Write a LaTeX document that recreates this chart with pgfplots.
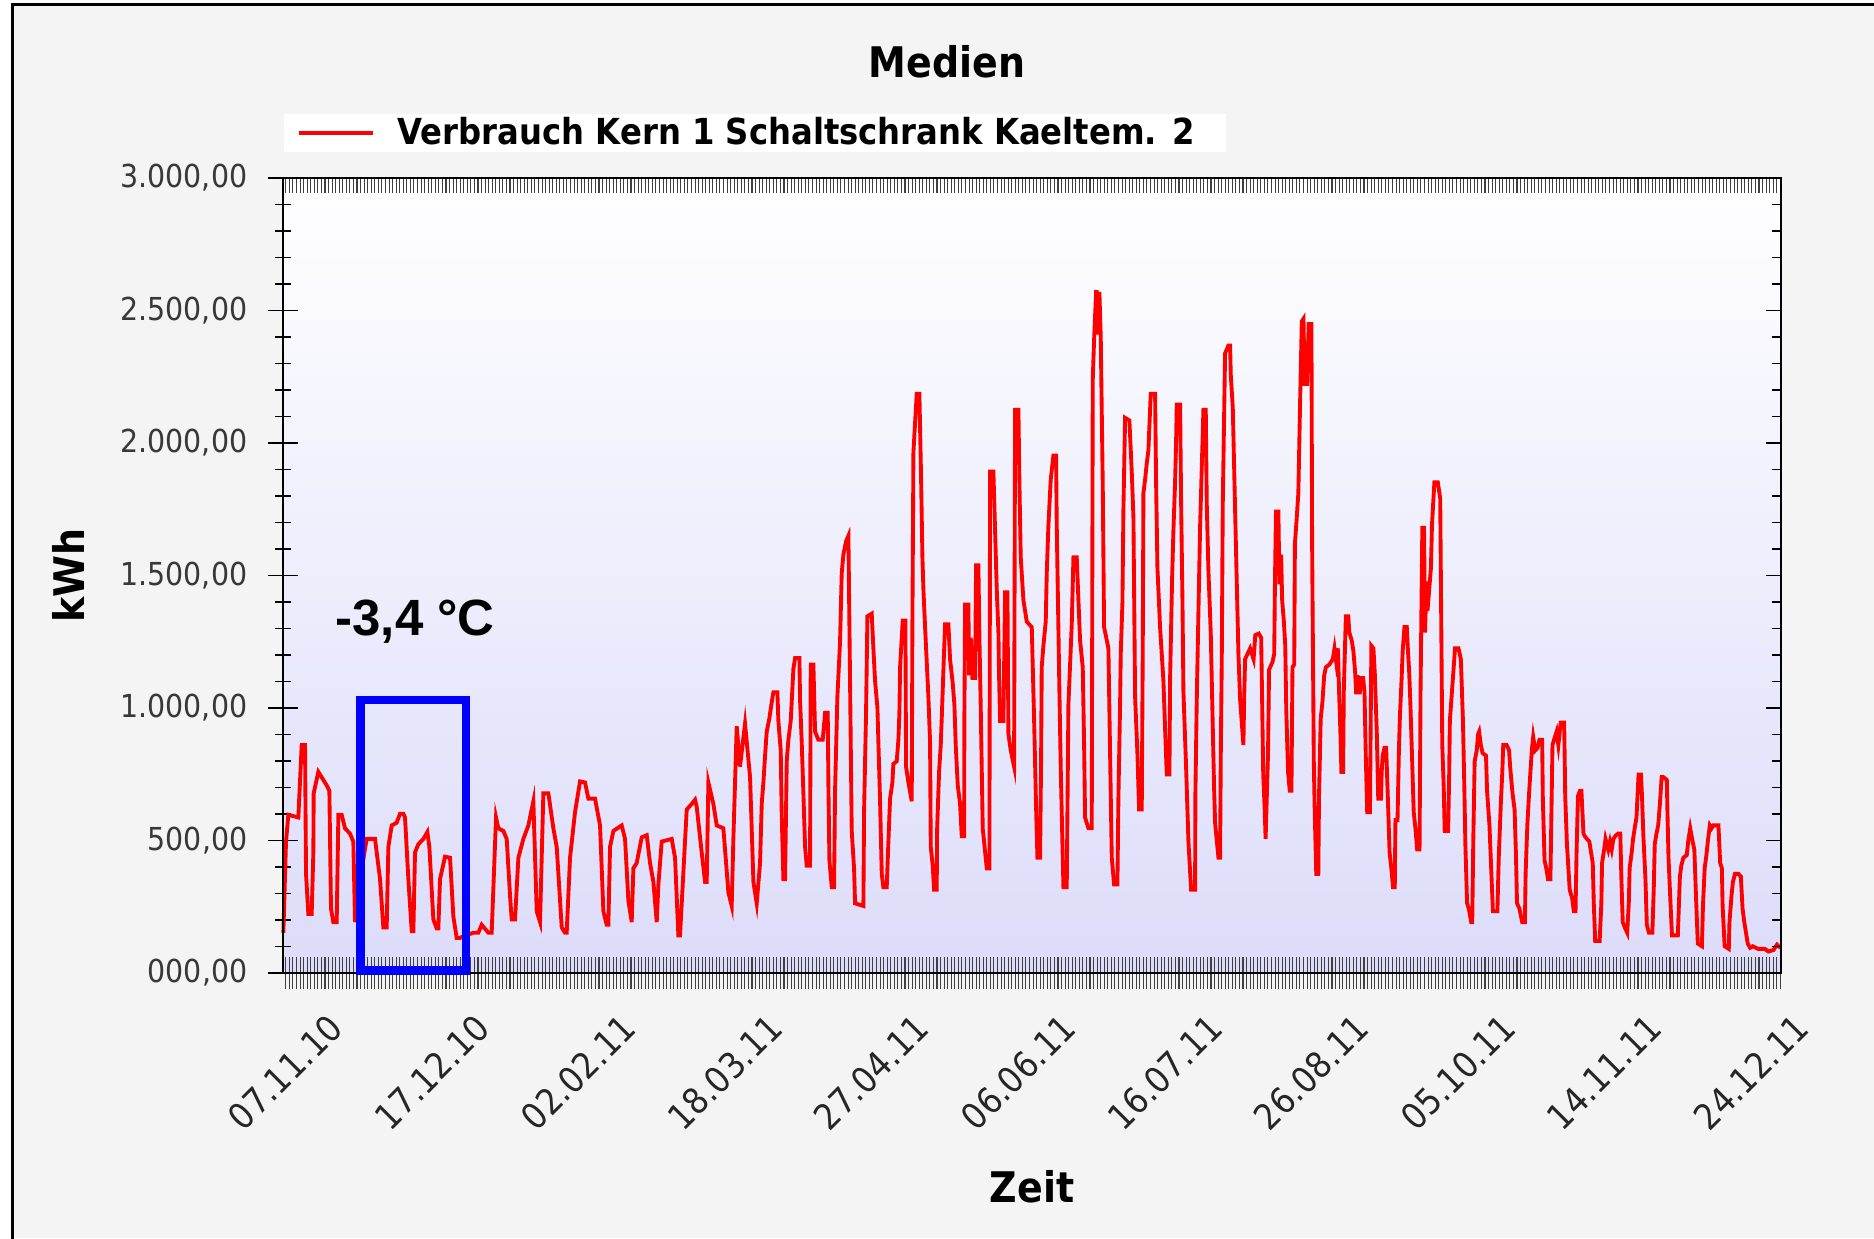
\documentclass[border=0pt]{standalone}
\usepackage{pgfplots}
\pgfplotsset{compat=1.18}
\usepackage{fontspec}
\setmainfont{DejaVu Sans}[FakeStretch=0.9]
\newfontfamily\arialfont{Liberation Sans}
\definecolor{chartbg}{RGB}{244,244,244}
\definecolor{plotlow}{RGB}{220,220,250}
\newcommand\ytickfont{\fontsize{9}{10}\selectfont}
\newcommand\xtickfont{\fontsize{10.2}{12}\selectfont}
\newcommand\labelfont{\fontsize{12}{14}\selectfont\bfseries}
\newcommand\legfont{\fontsize{10.2}{12}\selectfont\bfseries}

\begin{document}
\begin{tikzpicture}
\useasboundingbox (0,0) rectangle (187.4mm,123.8mm);
\fill[white] (0,0) rectangle (187.4mm,123.8mm);
\fill[chartbg] (1.2mm,0) rectangle (187.4mm,123.3mm);
\draw[black,line width=0.3mm] (1.2mm,-1mm) -- (1.2mm,123.3mm) -- (188mm,123.3mm);
\node[font=\labelfont] at (94.7mm,117.6mm) {Medien};

% main axis: data, y ticks left, labels, legend
\begin{axis}[
  at={(28.3mm,26.5mm)}, anchor=south west,
  width=149.8mm, height=79.5mm, scale only axis,
  xmin=-8.8, xmax=412.2, ymin=0, ymax=3000,
  clip=false,
  axis background/.style={top color=white, bottom color=plotlow},
  axis line style={black, line width=0.5pt},
  xtick={0,41.2,82.4,123.6,164.8,206,247.2,288.4,329.6,370.8,412},
  xticklabels={07.11.10,17.12.10,02.02.11,18.03.11,27.04.11,06.06.11,16.07.11,26.08.11,05.10.11,14.11.11,24.12.11},
  xtick pos=left, xtick style={draw=none},
  xticklabel style={xshift=1.2mm, yshift=-2.3mm, rotate=45, anchor=north east, inner sep=0pt, font=\xtickfont, text=black!85},
  ytick={0,500,...,3000},
  yticklabels={{000,00},{500,00},{1.000,00},{1.500,00},{2.000,00},{2.500,00},{3.000,00}},
  ytick pos=left, minor y tick num=4, tick align=center,
  major tick length=3mm, minor tick length=1.6mm,
  ytick style={black, line width=0.4pt},
  yticklabel style={anchor=east, inner sep=0pt, xshift=-2.0mm, font=\ytickfont, text=black!78},
  xlabel={Zeit}, ylabel={kWh},
  every axis x label/.style={at={(axis description cs:0.5,0)}, anchor=center, yshift=-21.4mm, font=\labelfont},
  every axis y label/.style={at={(axis description cs:0,0.5)}, xshift=-21.5mm, rotate=90, anchor=center, font=\labelfont},
  legend style={at={(0,1)}, anchor=south west, yshift=2.5mm, draw=none, fill=white,
    inner xsep=0pt, inner ysep=0pt, font=\legfont, cells={anchor=west},
    nodes={inner xsep=0.7mm, inner ysep=0.3mm}},
  legend image code/.code={\path[draw=none] (0mm,0mm) -- (10.7mm,0mm); \draw[#1] (1.5mm,0mm) -- (8.9mm,0mm);},
]
\addplot[red, line width=1.1pt] coordinates {
(-8.70,152) (-7.95,496) (-7.30,597) (-4.49,587) (-3.55,860) (-2.61,860) (-2.33,374) (-1.68,223) (-0.74,223) (-0.27,455) (-0.18,678) (1.13,759) (2.07,739) (3.48,708) (4.23,688) (4.69,243) (5.35,192) (6.29,192) (6.76,597) (7.69,597) (8.63,546) (10.03,526) (10.97,496) (11.44,192) (12.85,354) (14.72,506) (17.06,506) (18.47,354) (19.40,172) (20.34,172) (20.81,476) (21.75,557) (23.15,567) (24.09,601) (25.02,601) (25.49,587) (26.43,354) (27.37,158) (27.84,158) (28.30,455) (29.24,486) (30.65,506) (31.77,532) (32.33,476) (33.46,202) (34.39,168) (34.86,168) (35.33,354) (36.73,439) (38.14,435) (39.08,213) (40.01,132) (40.95,132) (41.42,136) (44.70,152) (46.10,152) (47.04,182) (48.91,152) (49.85,152) (51.07,587) (51.72,546) (53.13,536) (54.07,506) (55.00,293) (55.47,202) (56.41,202) (57.35,435) (58.75,506) (60.16,557) (61.56,648) (62.50,233) (63.44,192) (64.37,678) (65.78,678) (67.18,546) (68.12,476) (69.53,172) (70.46,152) (70.93,152) (71.87,435) (73.27,607) (74.68,723) (76.08,719) (77.02,658) (78.89,658) (80.30,557) (81.24,233) (82.17,182) (82.64,182) (83.11,476) (84.05,536) (86.39,557) (87.33,506) (88.26,273) (89.20,192) (89.67,395) (90.60,415) (92.01,512) (93.42,520) (94.35,415) (95.29,344) (96.23,192) (96.70,334) (97.63,496) (100.44,506) (101.38,435) (102.31,142) (102.78,142) (104.66,617) (106.06,638) (107.00,654) (107.47,627) (108.87,455) (109.81,344) (110.28,344) (110.75,719) (112.15,638) (113.09,557) (114.96,546) (116.37,304) (117.30,253) (117.77,506) (118.71,931) (119.64,779) (121.05,941) (122.46,739) (123.40,344) (124.33,263)
(125.27,415) (125.74,638) (126.21,719) (126.68,820) (127.14,911) (127.89,961) (128.55,1022) (129.02,1059) (130.14,1059) (130.42,951) (131.08,840) (131.36,597) (131.83,354) (132.30,354) (132.77,799) (133.23,880) (133.89,951) (134.64,1148) (135.11,1188) (136.33,1188) (136.51,1032) (136.98,870) (137.45,678) (137.92,476) (138.39,405) (139.32,405) (139.51,1164) (140.26,1164) (140.73,911) (141.66,880) (142.88,880) (143.54,982) (144.29,982) (144.48,708) (144.76,425) (145.41,324) (146.07,324) (146.35,688) (147.00,1042) (147.75,1249) (148.22,1508) (148.69,1579) (149.44,1629) (150.10,1650) (150.57,1093) (151.03,536) (151.69,395) (151.97,263) (154.31,253) (154.50,607) (155.06,982) (155.44,1346) (156.65,1356) (157.12,1225) (157.59,1103) (158.25,1002) (159.00,648) (159.47,374) (159.93,324) (160.87,324) (161.34,496) (161.81,658) (162.46,719) (162.74,789) (163.68,799) (164.15,880) (164.43,982) (164.62,1154) (165.37,1330) (166.12,1330) (166.30,779) (166.96,719) (167.90,648) (168.08,1305) (168.37,1963) (168.83,2075) (169.30,2186) (170.05,2186) (170.52,1872) (170.90,1569) (171.18,1447) (171.65,1305) (172.11,1174) (172.58,1042) (173.05,870) (173.24,476) (173.80,405) (174.17,314) (174.92,314) (175.02,536) (175.58,759) (176.05,860) (176.33,961) (176.80,1144) (177.27,1316) (178.20,1316) (178.67,1184) (179.42,1093) (179.89,1012) (180.26,860) (180.83,708) (181.48,638) (181.95,516) (182.61,516) (182.70,972) (182.89,1390) (183.82,1390) (184.01,1123) (184.48,1265) (184.95,1113) (185.70,1113) (185.98,1538) (186.63,1538) (186.92,1265) (187.29,1002) (187.85,546) (188.98,395) (189.73,395) (189.82,1144) (189.91,1892) (190.85,1892) (191.32,1670) (191.79,1447) (192.26,1285) (192.44,1123) (192.72,951) (193.66,951) (194.13,1437) (194.79,1437) (195.07,901) (195.72,840) (196.66,779) (196.94,2125) (197.88,2125) (198.16,1852) (198.53,1569) (199.28,1407) (200.22,1326) (201.63,1305) (202.28,961) (202.84,627) (203.22,435) (203.97,435) (204.25,799) (204.43,1154) (204.90,1235) (205.56,1326) (205.84,1508) (206.31,1690) (206.96,1862) (207.71,1953) (208.46,1953) (208.65,1690) (209.40,1063) (209.78,769) (210.15,546) (210.53,324) (211.46,324) (211.93,1012) (212.40,1164) (212.87,1316) (213.34,1569) (214.27,1569) (214.74,1407) (215.21,1255) (215.96,1154) (216.33,870) (216.61,587) (217.55,546) (218.49,546) (218.77,2237) (219.14,2388) (219.71,2570) (219.89,2570) (220.17,2409) (220.64,2570) (221.02,2398) (221.58,1842) (221.95,1305) (222.42,1275) (223.17,1225) (223.64,830) (224.11,435) (224.77,334) (225.70,334) (225.99,668) (226.45,1012) (226.64,1204) (227.11,1397) (227.39,1751) (227.86,2095) (229.07,2085) (229.73,1892) (230.20,1720) (230.67,1042) (231.32,830) (231.79,617) (232.54,617) (232.82,1214) (233.01,1811) (233.48,1862) (233.95,1923) (234.41,1973) (235.07,2186) (236.29,2186) (236.57,1852) (236.95,1528) (237.69,1305) (238.63,1103) (239.10,921) (239.57,749) (240.32,749) (240.51,1113) (241.07,1488) (241.44,1670) (241.91,1852) (242.19,2004) (242.38,2145) (243.32,2145) (243.60,1781) (243.98,1407) (244.25,1063) (245.00,779) (245.66,496) (246.41,314) (247.53,314) (247.62,678) (247.99,1022) (248.46,1356) (248.93,1680) (249.40,1903) (249.87,2125) (250.53,2125) (250.81,1771) (251.28,1518) (251.93,1285) (252.40,992) (252.87,698) (253.15,567) (254.09,435) (254.56,435) (254.75,820) (255.03,1184) (255.31,1771) (255.96,2338) (256.90,2368) (257.37,2368) (257.56,2257) (258.12,2135) (258.77,1751) (259.43,1366) (259.71,1204) (260.18,1032) (261.11,860) (261.30,1022) (261.58,1184) (262.99,1225)
(263.97,1184) (264.45,1275) (265.42,1281) (266.10,1265) (266.39,1012) (266.68,749) (267.06,627) (267.35,506) (268.03,830) (268.32,1144) (269.29,1174) (269.77,1204) (269.97,1467) (270.26,1741) (270.94,1741) (271.23,1467) (271.71,1579) (272.00,1407) (272.48,1326) (272.87,1235) (273.16,992) (273.65,759) (274.13,688) (274.61,688) (274.90,1154) (275.39,1164) (275.58,1619) (276.06,1710) (276.55,1811) (277.03,2145) (277.52,2459) (278.00,2469) (278.29,2216) (278.68,2338) (278.97,2216) (279.45,2449) (280.23,2449) (280.42,1619) (280.90,789) (281.19,587) (281.58,374) (282.16,374) (282.36,668) (282.84,961) (283.32,1022) (283.81,1123) (284.29,1154) (285.26,1164) (286.23,1184) (286.71,1225) (287.19,1174) (287.68,1225) (287.97,1073) (288.36,911) (288.65,759) (289.13,759) (289.32,1063) (289.90,1346) (290.58,1346) (290.87,1285) (291.55,1255) (292.03,1214) (292.52,1133) (292.81,1052) (293.19,1123) (293.78,1052) (294.16,1113) (294.74,1113) (295.13,1063) (295.52,810) (295.90,607) (296.68,607) (296.87,921) (297.07,1235) (297.65,1225) (298.03,1133) (298.61,901) (299.00,658) (299.78,658) (299.97,759) (300.26,820) (300.74,850) (301.23,850) (301.71,658) (302.19,455) (302.68,395) (303.16,324) (303.65,324) (303.84,577) (304.42,577) (304.81,840) (305.10,972) (305.58,1113) (305.87,1214) (306.36,1305) (307.03,1305) (307.32,1225) (307.71,1133) (308.00,1032) (308.49,820) (308.97,607) (309.45,546) (309.94,466) (310.61,466) (310.90,1073) (311.39,1680) (311.87,1680) (312.16,1285) (312.55,1478) (312.84,1366) (313.32,1447) (313.81,1528) (314.10,1690) (314.78,1852) (315.74,1852) (316.42,1791) (316.71,1326) (317.00,860) (317.39,708) (317.68,536) (318.65,536) (318.94,749) (319.13,951) (319.61,1042) (320.10,1133) (320.58,1225) (321.55,1225) (322.23,1184) (322.81,951) (323.19,708) (323.49,486) (323.97,263) (324.45,243) (325.13,192) (325.42,192) (325.71,496) (326.10,799) (326.68,840) (327.07,901) (327.36,911) (327.84,860) (328.32,830) (329.29,820) (329.58,688) (330.26,557) (330.74,395) (331.23,233) (332.49,233) (332.87,435) (333.45,638) (333.84,749) (334.13,860) (335.10,860) (335.78,840) (336.07,779) (336.74,678) (337.32,617) (337.71,445) (338.00,263) (338.68,243) (339.45,192) (340.23,192) (340.42,374) (340.90,557) (341.39,678) (341.87,779) (342.16,840) (342.55,891) (343.13,840) (343.81,850) (344.29,880) (345.07,880) (345.26,658) (345.74,425) (346.23,395) (346.71,354) (347.39,354) (347.68,607) (347.97,860) (348.65,891) (349.13,911) (349.62,860) (350.29,945) (351.26,945) (351.55,668) (352.03,486) (352.81,314) (353.49,283) (353.97,233) (354.45,233) (354.74,455) (355.13,668) (355.71,688) (356.10,688) (356.68,526) (357.07,516) (357.65,506) (358.33,496) (358.81,455) (359.29,415) (359.58,263) (359.97,121) (361.23,121) (361.71,263) (361.90,415) (362.49,466) (362.87,506) (363.65,466) (364.13,496) (364.62,466) (365.10,506) (365.58,516) (366.36,526) (367.03,526) (367.32,364) (367.71,192) (368.29,172) (368.97,152) (369.45,273) (369.65,395) (370.23,455) (370.62,506) (371.20,557) (371.58,587) (371.87,668) (372.16,749) (372.84,749) (373.13,668) (373.52,516) (374.10,354) (374.48,182) (375.07,152) (376.04,152) (376.43,314) (376.71,486) (377.20,526) (377.68,557) (378.16,638) (378.65,739) (379.13,739) (380.10,729) (380.30,597) (380.58,435) (381.07,283) (381.55,142) (383.20,142) (383.49,253) (383.78,364) (384.17,405) (384.75,435) (385.71,445) (386.10,496) (386.68,546) (387.36,496) (387.84,466) (388.32,283) (388.81,111) (389.97,101) (390.26,253) (390.74,395) (391.23,445) (391.71,506) (392.19,557) (392.68,546) (393.16,557) (394.61,557) (395.10,415) (395.58,395) (395.78,253) (396.36,101) (397.52,91) (397.71,192) (398.29,293) (398.68,344) (399.26,374) (400.23,374) (400.91,364) (401.39,243) (401.88,192) (402.36,152) (402.84,111) (403.52,95) (404.29,101) (405.74,91) (407.68,91) (408.65,81) (410.10,87) (411.07,107) (412.03,95)
};
\addlegendentry{Verbrauch Kern 1 Schaltschrank Kaeltem. 2\hspace*{2.5mm}}
\coordinate (boxA) at (axis cs:13.0,10);
\coordinate (boxB) at (axis cs:42.6,1030);
\coordinate (tempT) at (axis cs:5.8,1325);
\end{axis}

% daily ticks at the bottom, centred on the axis line
\begin{axis}[
  at={(28.3mm,26.5mm)}, anchor=south west,
  width=149.8mm, height=79.5mm, scale only axis,
  xmin=-8.8, xmax=412.2, ymin=0, ymax=3000,
  axis line style={draw=none},
  xtick={-8,-7,...,412}, xticklabels={}, xtick pos=left,
  ytick=\empty,
  tick align=center, major tick length=3.2mm,
  xtick style={black!75, line width=0.3pt},
]
\end{axis}

% ticks inside at the top and right
\begin{axis}[
  at={(28.3mm,26.5mm)}, anchor=south west,
  width=149.8mm, height=79.5mm, scale only axis,
  xmin=-8.8, xmax=412.2, ymin=0, ymax=3000,
  axis line style={black, line width=0.5pt},
  xtick={-8,-7,...,412}, xticklabels={}, xtick pos=right,
  ytick={0,500,...,3000}, yticklabels={}, ytick pos=right, minor y tick num=4,
  tick align=inside, major tick length=1.5mm, minor tick length=0.9mm,
  xtick style={black!75, line width=0.3pt},
  ytick style={black, line width=0.4pt},
]
\end{axis}

\draw[blue, line width=2.5pt] (boxA) rectangle (boxB);
\node[font=\arialfont\bfseries\fontsize{14.5}{16}\selectfont, anchor=west, inner sep=0pt] at (tempT) {-3,4 °C};
\end{tikzpicture}
\end{document}
